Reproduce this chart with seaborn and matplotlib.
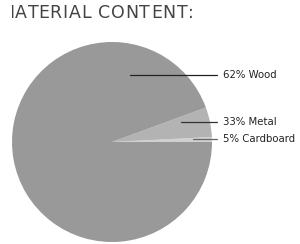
import matplotlib
matplotlib.use("Agg")
import matplotlib.pyplot as plt
from matplotlib.transforms import Bbox
import seaborn as sns

# data
categories = ["Wood", "Metal", "Cardboard"]
label_pcts = [62, 33, 5]
# wedge sizes as they are drawn in the picture (percent of the circle)
wedge_sizes = [94.4, 4.8, 0.8]
colors = ["#999999", "#b3b3b3", "#d0d0d0"]
title = "MATERIAL CONTENT:"

sns.set_theme(style="white")
plt.rcParams["font.family"] = ["DejaVu Sans"]

fig = plt.figure(figsize=(3.0, 2.44), dpi=100)
# pie box: x 12..212 px, y 42..242 px (from top)
ax = fig.add_axes([12 / 300, 2 / 244, 200 / 300, 200 / 244])

# draw counterclockwise from 0 deg: cardboard, metal, wood
order = [2, 1, 0]
ax.pie([wedge_sizes[i] for i in order],
       colors=[colors[i] for i in order],
       startangle=0, counterclock=True, radius=1.0,
       wedgeprops=dict(linewidth=0))
ax.set_xlim(-1, 1)
ax.set_ylim(-1, 1)
ax.set_aspect("equal")
ax.axis("off")

# label leader lines (start point inside the wedge, pixel -> data)
def px(x, y):
    return (x - 112) / 100, (142 - y) / 100

anchors = {"Wood": (130, 75), "Metal": (181, 122), "Cardboard": (193, 139)}
line_colors = {"Wood": "#222222", "Metal": "#333333", "Cardboard": "#666666"}
for cat, pct in zip(categories, label_pcts):
    ax0, ay = anchors[cat]
    x0, y0 = px(ax0, ay)
    x1, _ = px(217, ay)
    xt, _ = px(223, ay)
    ax.plot([x0, x1], [y0, y0], color=line_colors[cat], lw=0.9, clip_on=False)
    ax.text(xt, y0, f"{pct}% {cat}", fontsize=7.3, color="#222222",
            va="center", ha="left", clip_on=False)

# title: letter-spaced by hand, cut off on the left like the reference
tkw = dict(fontsize=12.5, color="#444444", va="center", ha="left")
ty = 1 - 13.5 / 244
r = fig.canvas.get_renderer()


def text_w(s):
    if not s:
        return 0.0
    tmp = fig.text(0, 0, s.replace(" ", "\u00a0"), **tkw)
    w = tmp.get_window_extent(r).width
    tmp.remove()
    return w


prefix = [text_w(title[:i]) for i in range(len(title) + 1)]
rest_w = prefix[-1] - prefix[1]           # "ATERIAL CONTENT:" untracked
track = (192 - 15 - rest_w) / (len(title) - 2)
x_a = 15.0
clip = Bbox.from_extents(12.3, 0, 300, 244)
for i, ch in enumerate(title):
    if ch == " ":
        continue
    x = x_a + (prefix[i] - prefix[1]) + (i - 1) * track
    t = fig.text(x / 300, ty, ch, **tkw)
    t.set_clip_box(clip)
    t.set_clip_on(True)

fig.savefig("out.png", dpi=100)
